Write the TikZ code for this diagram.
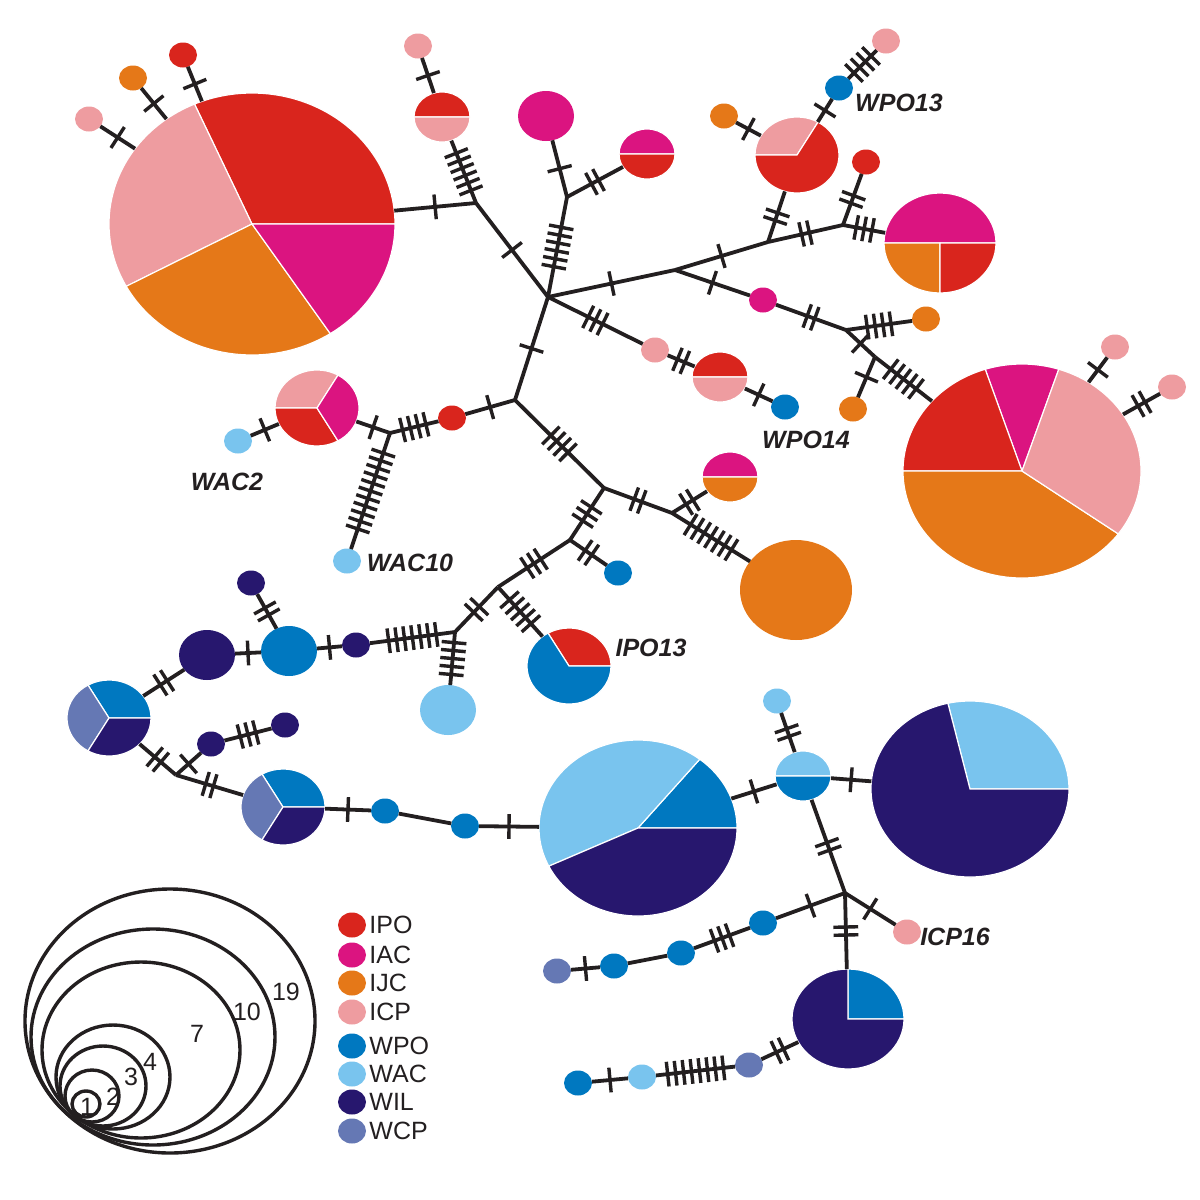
\documentclass[tikz,border=0pt]{standalone}
\usepackage{fontspec}
\setmainfont{Liberation Sans}
\usetikzlibrary{positioning, shapes.geometric, decorations.markings}

\definecolor{cIPO}{RGB}{217, 37, 29}
\definecolor{cIAC}{RGB}{219, 20, 128}
\definecolor{cIJC}{RGB}{229, 120, 24}
\definecolor{cICP}{RGB}{238, 156, 160}
\definecolor{cWPO}{RGB}{0, 120, 192}
\definecolor{cWAC}{RGB}{121, 196, 238}
\definecolor{cWIL}{RGB}{39, 23, 110}
\definecolor{cWCP}{RGB}{101, 120, 180}
\definecolor{ink}{RGB}{35, 31, 32}

% pie slices inside a haplotype node: {node}{rx}{ry}{from/to/colour,...}
\newcommand{\hpie}[4]{%
  \foreach \a/\b/\c in {#4}
    {\fill[\c, draw=white, line width=0.6pt] (#1.center) -- ++(-\a:#2 and #3)
       arc[start angle=-\a, end angle=-\b, x radius=#2, y radius=#3] -- cycle;}}

\begin{document}
\begin{tikzpicture}[x=0.5pt, y=-0.5pt,
    hap/.style={ellipse, inner sep=0pt, outer sep=0pt, draw=none},
    one/.style={hap, minimum width=14pt, minimum height=12.5pt},
    two/.style={hap, minimum width=28pt, minimum height=25pt},
    three/.style={hap, minimum width=42pt, minimum height=38pt},
    four/.style={hap, minimum width=56pt, minimum height=50pt},
    seven/.style={hap, minimum width=99pt, minimum height=88pt},
    ten/.style={hap, minimum width=119pt, minimum height=107pt},
    nineteen/.style={hap, minimum width=143pt, minimum height=131pt},
    ipo/.style={fill=cIPO}, iac/.style={fill=cIAC},
    ijc/.style={fill=cIJC}, icp/.style={fill=cICP},
    wpo/.style={fill=cWPO}, wac/.style={fill=cWAC},
    wil/.style={fill=cWIL}, wcp/.style={fill=cWCP},
    link/.style={draw=ink, line width=1.9pt},
    mtick/.style={draw=ink, line width=1.7pt},
    mut/.style={postaction={decorate, decoration={markings,
      mark=at position 0.5 with {\foreach \k in {1,...,#1}
        {\draw[mtick] ({(\k-(#1+1)/2)*4pt},-6.2pt) -- ++(0,12.4pt);}}}}},
    lab/.style={font=\fontsize{12.5}{14}\selectfont\bfseries\itshape, text=ink},
    key/.style={font=\fontsize{12.5}{14}\selectfont, text=ink, inner sep=0pt},
    ring/.style={draw=ink, line width=1.7pt},
  ]
    \useasboundingbox (0,0) rectangle (1200,1200);

    % upper left group
    \node[nineteen] (A19) at (252,224) {};
    \hpie{A19}{143}{131}{0/113.7/cIPO, 113.7/208.4/cICP, 208.4/303.2/cIJC, 303.2/360/cIAC}
    \node[one, icp] (a1) at (89,119) {};
    \node[one, ijc] (a2) at (133,78) {};
    \node[one, ipo] (a3) at (183,55) {};
    \node[two] (B2) at (442,117) {};
    \hpie{B2}{28}{25}{0/180/cIPO, 180/360/cICP}
    \node[one, icp] (b1) at (418,46) {};
    \node[two, iac] (C2) at (546,116) {};
    \node[two] (D2) at (647,154) {};
    \hpie{D2}{28}{25}{0/180/cIAC, 180/360/cIPO}

    % upper right group
    \node[three] (E3) at (797,155) {};
    \hpie{E3}{42}{38}{60/180/cICP, 180/420/cIPO}
    \node[one, ijc] (e1) at (724,116) {};
    \node[one, wpo] (e2) at (839,88) {};
    \node[one, icp] (e3) at (886,41) {};
    \node[one, ipo] (f1) at (866,162) {};
    \node[four] (F4) at (940,243) {};
    \hpie{F4}{56}{50}{0/180/cIAC, 180/270/cIJC, 270/360/cIPO}
    \node[one, iac] (g1) at (763,300) {};
    \node[one, ijc] (g2) at (926,319) {};
    \node[one, ijc] (g3) at (853,409) {};
    \node[ten] (G10) at (1022,471) {};
    \hpie{G10}{119}{107}{72/108/cIAC, 108/180/cIPO, 180/324/cIJC, 324/432/cICP}
    \node[one, icp] (g4) at (1115,347) {};
    \node[one, icp] (g5) at (1172,387) {};
    \node[one, icp] (h1) at (655,350) {};
    \node[two] (H2) at (720,377) {};
    \hpie{H2}{28}{25}{0/180/cIPO, 180/360/cICP}
    \node[one, wpo] (h2) at (785,407) {};

    % middle group
    \node[one, ipo] (i1) at (452,418) {};
    \node[three] (I3) at (317,408) {};
    \hpie{I3}{42}{38}{60/180/cICP, 180/300/cIPO, 300/420/cIAC}
    \node[one, wac] (i2) at (238,441) {};
    \node[one, wac] (i3) at (347,561) {};
    \node[two] (J2) at (730,477) {};
    \hpie{J2}{28}{25}{0/180/cIAC, 180/360/cIJC}
    \node[four, ijc] (J4) at (796,590) {};
    \node[one, wpo] (j1) at (618,573) {};
    \node[three] (K3) at (569,666) {};
    \hpie{K3}{42}{38}{0/120/cIPO, 120/360/cWPO}
    \node[two, wac] (k1) at (448,710) {};
    \node[one, wil] (k2) at (356,645) {};

    % lower left group
    \node[two, wpo] (L2) at (289,651) {};
    \node[one, wil] (l1) at (251,583) {};
    \node[two, wil] (L2b) at (207,655) {};
    \node[three] (M3) at (109,718) {};
    \hpie{M3}{42}{38}{0/120/cWPO, 120/240/cWCP, 240/360/cWIL}
    \node[one, wil] (m1) at (211,744) {};
    \node[one, wil] (m2) at (285,725) {};
    \node[three] (N3) at (283,807) {};
    \hpie{N3}{42}{38}{0/120/cWPO, 120/240/cWCP, 240/360/cWIL}
    \node[one, wpo] (n1) at (385,811) {};
    \node[one, wpo] (n2) at (465,826) {};

    % lower right group
    \node[seven] (O7) at (638,828) {};
    \hpie{O7}{99}{88}{0/51.4/cWPO, 51.4/205.7/cWAC, 205.7/360/cWIL}
    \node[two] (P2) at (803,776) {};
    \hpie{P2}{28}{25}{0/180/cWAC, 180/360/cWPO}
    \node[one, wac] (p1) at (777,701) {};
    \node[seven] (Q7) at (970,789) {};
    \hpie{Q7}{99}{88}{0/102.9/cWAC, 102.9/360/cWIL}
    \node[one, icp] (q1) at (907,932) {};
    \node[four] (R4) at (848,1019) {};
    \hpie{R4}{56}{50}{0/90/cWPO, 90/360/cWIL}
    \node[one, wpo] (r1) at (763,923) {};
    \node[one, wpo] (r2) at (681,953) {};
    \node[one, wpo] (r3) at (614,966) {};
    \node[one, wcp] (r4) at (557,971) {};
    \node[one, wcp] (s1) at (749,1065) {};
    \node[one, wac] (s2) at (642,1077) {};
    \node[one, wpo] (s3) at (578,1083) {};

    % median vectors
    \coordinate (v1) at (476,203);
    \coordinate (v2) at (548,297);
    \coordinate (v3) at (567,197);
    \coordinate (v4) at (675,270);
    \coordinate (v5) at (768,242);
    \coordinate (v6) at (843,225);
    \coordinate (v7) at (846,330);
    \coordinate (v8) at (875,357);
    \coordinate (v9) at (515,400);
    \coordinate (v10) at (390,433);
    \coordinate (v11) at (604,488);
    \coordinate (v12) at (672,513);
    \coordinate (v13) at (570,540);
    \coordinate (v14) at (498,587);
    \coordinate (v15) at (455,632);
    \coordinate (v16) at (176,775);
    \coordinate (v17) at (845,893);

    % links with mutation steps
    \draw[link, mut=1] (a1) -- (A19);
    \draw[link, mut=1] (a2) -- (A19);
    \draw[link, mut=1] (a3) -- (A19);
    \draw[link, mut=1] (A19) -- (v1);
    \draw[link, mut=1] (b1) -- (B2);
    \draw[link, mut=6] (B2) -- (v1);
    \draw[link, mut=1] (v1) -- (v2);
    \draw[link, mut=1] (C2) -- (v3);
    \draw[link, mut=2] (v3) -- (D2);
    \draw[link, mut=6] (v3) -- (v2);
    \draw[link, mut=1] (v2) -- (v4);
    \draw[link, mut=1] (v4) -- (v5);
    \draw[link, mut=2] (v5) -- (E3);
    \draw[link, mut=1] (e1) -- (E3);
    \draw[link, mut=1] (E3) -- (e2);
    \draw[link, mut=4] (e2) -- (e3);
    \draw[link, mut=2] (v5) -- (v6);
    \draw[link, mut=2] (v6) -- (f1);
    \draw[link, mut=3] (v6) -- (F4);
    \draw[link, mut=1] (v4) -- (g1);
    \draw[link, mut=2] (g1) -- (v7);
    \draw[link, mut=4] (v7) -- (g2);
    \draw[link, mut=1] (v7) -- (v8);
    \draw[link, mut=1] (v8) -- (g3);
    \draw[link, mut=5] (v8) -- (G10);
    \draw[link, mut=1] (G10) -- (g4);
    \draw[link, mut=2] (G10) -- (g5);
    \draw[link, mut=3] (v2) -- (h1);
    \draw[link, mut=2] (h1) -- (H2);
    \draw[link, mut=1] (H2) -- (h2);
    \draw[link, mut=1] (v2) -- (v9);
    \draw[link, mut=1] (v9) -- (i1);
    \draw[link, mut=4] (i1) -- (v10);
    \draw[link, mut=1] (v10) -- (I3);
    \draw[link, mut=1] (I3) -- (i2);
    \draw[link, mut=11] (v10) -- (i3);
    \draw[link, mut=4] (v9) -- (v11);
    \draw[link, mut=2] (v11) -- (v12);
    \draw[link, mut=2] (v12) -- (J2);
    \draw[link, mut=7] (v12) -- (J4);
    \draw[link, mut=3] (v11) -- (v13);
    \draw[link, mut=2] (v13) -- (j1);
    \draw[link, mut=3] (v13) -- (v14);
    \draw[link, mut=5] (v14) -- (K3);
    \draw[link, mut=2] (v14) -- (v15);
    \draw[link, mut=5] (v15) -- (k1);
    \draw[link, mut=7] (v15) -- (k2);
    \draw[link, mut=1] (k2) -- (L2);
    \draw[link, mut=2] (L2) -- (l1);
    \draw[link, mut=1] (L2b) -- (L2);
    \draw[link, mut=2] (M3) -- (L2b);
    \draw[link, mut=2] (M3) -- (v16);
    \draw[link, mut=1] (v16) -- (m1);
    \draw[link, mut=3] (m1) -- (m2);
    \draw[link, mut=2] (v16) -- (N3);
    \draw[link, mut=1] (N3) -- (n1);
    \draw[link] (n1) -- (n2);
    \draw[link, mut=1] (n2) -- (O7);
    \draw[link, mut=1] (O7) -- (P2);
    \draw[link, mut=2] (P2) -- (p1);
    \draw[link, mut=1] (P2) -- (Q7);
    \draw[link, mut=2] (P2) -- (v17);
    \draw[link, mut=1] (v17) -- (q1);
    \draw[link, mut=2] (v17) -- (R4);
    \draw[link, mut=1] (v17) -- (r1);
    \draw[link, mut=3] (r1) -- (r2);
    \draw[link] (r2) -- (r3);
    \draw[link, mut=1] (r3) -- (r4);
    \draw[link, mut=2] (R4) -- (s1);
    \draw[link, mut=8] (s1) -- (s2);
    \draw[link, mut=1] (s2) -- (s3);

    % haplotype labels
    \node[lab] (tWPO13) at (899,103) {WPO13};
    \node[lab] (tWPO14) at (806,440) {WPO14};
    \node[lab] (tWAC2) at (227,482) {WAC2};
    \node[lab] (tWAC10) at (410,563) {WAC10};
    \node[lab] (tIPO13) at (651,648) {IPO13};
    \node[lab] (tICP16) at (955,937) {ICP16};

    % size key
    \foreach \cx/\cy/\rx/\ry in {86/1104/14/13, 92/1096/27/26, 103/1086/43/40,
        113/1077/57/52, 141/1050/99/88, 153/1037/122/108, 170/1021/145/132}
      \draw[ring] (\cx,\cy) ellipse [x radius=\rx, y radius=\ry];
    \node[key] (k1n) at (87,1107) {1};
    \node[key] (k2n) at (113,1097) {2};
    \node[key] (k3n) at (131,1077) {3};
    \node[key] (k4n) at (150,1062) {4};
    \node[key] (k7n) at (197,1034) {7};
    \node[key] (k10n) at (247,1012) {10};
    \node[key] (k19n) at (286,992) {19};

    % population key
    \foreach \pop/\py in {IPO/925, IAC/955, IJC/983, ICP/1012,
        WPO/1046, WAC/1074, WIL/1102, WCP/1131} {
      \node[one, fill=c\pop] (d\pop) at (352,\py) {};
      \node[key, right=1.5pt of d\pop] (t\pop) {\pop};
    }
  \end{tikzpicture}
\end{document}
